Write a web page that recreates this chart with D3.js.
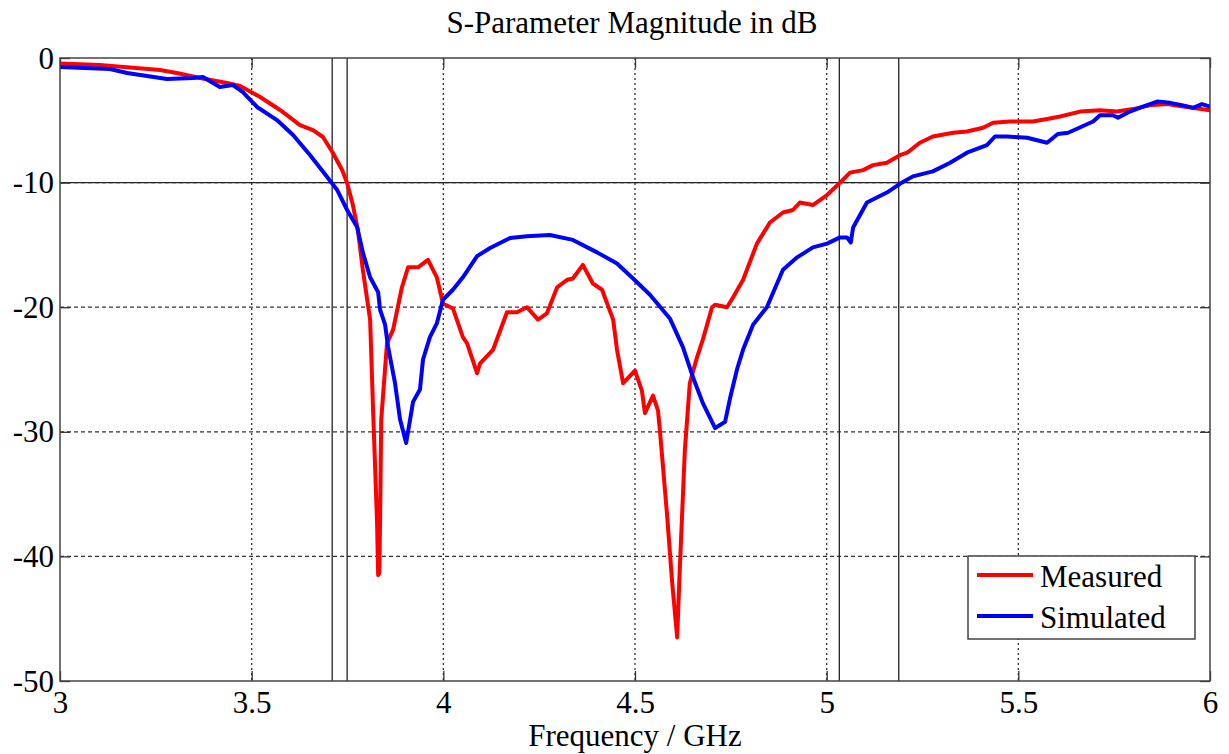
<!DOCTYPE html>
<html>
<head>
<meta charset="utf-8">
<script src="https://cdn.jsdelivr.net/npm/d3@7"></script>
<style>
  html, body { margin: 0; padding: 0; background: #fff; }
  svg { display: block; font-family: "Liberation Serif", "Times New Roman", serif; }
</style>
</head>
<body>
<svg id="chart" width="1229" height="754"></svg>
<script>
// ---------- data ----------
const titleText = "S-Parameter Magnitude in dB";
const xLabelText = "Frequency / GHz";
const xTicks = [3, 3.5, 4, 4.5, 5, 5.5, 6];
const yTicks = [0, -10, -20, -30, -40, -50];
const xDomain = [3, 6];
const yDomain = [-50, 0];
const seriesNames = ["Measured", "Simulated"];
const seriesColors = ["#ff0000", "#0000ff"];
// -10 dB bandwidth marker lines
const markerFreqs = [3.710, 3.749, 5.033, 5.188];
const markerDb = [-10];

const measuredFreq = [3.000,3.104,3.261,3.305,3.365,3.436,3.470,3.522,3.574,3.626,3.660,3.686,3.712,3.736,3.749,3.764,3.777,3.790,3.809,3.817,3.822,3.827,3.830,3.833,3.835,3.838,3.853,3.869,3.892,3.908,3.934,3.960,3.983,3.999,4.025,4.051,4.062,4.088,4.096,4.130,4.166,4.192,4.218,4.247,4.270,4.297,4.323,4.338,4.364,4.390,4.414,4.443,4.453,4.469,4.500,4.518,4.526,4.547,4.560,4.565,4.584,4.597,4.610,4.617,4.630,4.643,4.662,4.677,4.701,4.709,4.740,4.756,4.782,4.818,4.852,4.886,4.912,4.930,4.964,5.001,5.035,5.061,5.095,5.121,5.157,5.191,5.210,5.243,5.277,5.330,5.366,5.408,5.434,5.478,5.538,5.575,5.609,5.661,5.713,5.757,5.799,5.843,5.888,5.930,6.000];
const measuredDb = [-0.45,-0.56,-0.96,-1.20,-1.61,-2.01,-2.25,-3.13,-4.17,-5.38,-5.78,-6.34,-7.62,-8.99,-10.03,-11.8,-13.8,-17.0,-21.0,-28.5,-32.8,-37.2,-41.5,-41.3,-37.2,-29.0,-22.9,-21.8,-18.4,-16.8,-16.8,-16.2,-17.6,-19.7,-20.1,-22.4,-22.9,-25.3,-24.5,-23.4,-20.4,-20.4,-20.0,-21.0,-20.5,-18.4,-17.8,-17.7,-16.6,-18.1,-18.6,-21.0,-23.4,-26.1,-25.1,-26.7,-28.5,-27.1,-28.3,-29.9,-36.8,-42.1,-46.5,-40.9,-31.5,-26.1,-24.0,-22.6,-20.0,-19.8,-20.0,-19.2,-17.8,-14.9,-13.2,-12.4,-12.2,-11.6,-11.8,-11.0,-10.0,-9.2,-9.0,-8.6,-8.4,-7.8,-7.6,-6.8,-6.3,-6.0,-5.9,-5.6,-5.2,-5.1,-5.1,-4.9,-4.7,-4.3,-4.2,-4.3,-4.1,-3.8,-3.7,-3.9,-4.2];

const simulatedFreq = [3.000,3.130,3.175,3.279,3.347,3.373,3.417,3.451,3.477,3.514,3.566,3.608,3.652,3.697,3.723,3.749,3.775,3.790,3.809,3.830,3.835,3.848,3.856,3.874,3.887,3.903,3.921,3.939,3.947,3.965,3.983,3.999,4.025,4.051,4.088,4.122,4.174,4.218,4.278,4.338,4.401,4.453,4.495,4.539,4.591,4.625,4.651,4.677,4.709,4.735,4.748,4.766,4.782,4.808,4.844,4.886,4.923,4.964,5.001,5.035,5.053,5.063,5.069,5.105,5.131,5.157,5.191,5.225,5.277,5.322,5.366,5.418,5.439,5.470,5.523,5.575,5.603,5.630,5.695,5.713,5.747,5.760,5.791,5.825,5.862,5.896,5.930,5.956,5.979,6.000];
const simulatedDb = [-0.72,-0.88,-1.2,-1.69,-1.61,-1.52,-2.33,-2.17,-2.73,-3.93,-4.98,-6.18,-7.78,-9.55,-10.59,-12.2,-13.56,-15.6,-17.6,-18.8,-20.2,-21.4,-23.2,-26.1,-29.0,-30.9,-27.6,-26.6,-24.2,-22.4,-21.3,-19.4,-18.6,-17.6,-15.9,-15.25,-14.45,-14.3,-14.2,-14.6,-15.6,-16.5,-17.7,-19.0,-20.9,-23.2,-25.6,-27.7,-29.7,-29.2,-27.3,-25.0,-23.4,-21.4,-20.0,-17.0,-16.0,-15.2,-14.9,-14.4,-14.4,-14.8,-13.6,-11.6,-11.2,-10.8,-10.1,-9.5,-9.1,-8.4,-7.6,-7.0,-6.3,-6.3,-6.4,-6.8,-6.1,-6.0,-5.1,-4.6,-4.6,-4.8,-4.3,-3.9,-3.5,-3.6,-3.8,-4.0,-3.7,-3.9];

// ---------- layout ----------
const svg = d3.select("#chart");
const pL = 60, pR = 1210, pT = 58, pB = 681;
const fontSize = 31;
const plainFormat = d => String(d);   // ASCII hyphen-minus as in the reference

const x = d3.scaleLinear().domain(xDomain).range([pL, pR]);
const y = d3.scaleLinear().domain(yDomain).range([pB, pT]);

svg.append("defs").append("clipPath").attr("id", "plotClip")
  .append("rect").attr("x", pL).attr("y", pT)
  .attr("width", pR - pL).attr("height", pB - pT);

// grid (dotted)
const grid = svg.append("g");
grid.selectAll("line.vg").data(xTicks.slice(1, -1)).join("line")
  .attr("x1", d => x(d)).attr("x2", d => x(d))
  .attr("y1", pT).attr("y2", pB)
  .attr("stroke", "#333").attr("stroke-width", 1.3)
  .attr("stroke-dasharray", "2,3");
grid.selectAll("line.hg").data(yTicks.slice(1, -1)).join("line")
  .attr("y1", d => y(d)).attr("y2", d => y(d))
  .attr("x1", pL).attr("x2", pR)
  .attr("stroke", "#333").attr("stroke-width", 1.3)
  .attr("stroke-dasharray", "4,3");

// marker solid lines
svg.append("g").selectAll("line").data(markerFreqs).join("line")
  .attr("x1", d => x(d)).attr("x2", d => x(d))
  .attr("y1", pT).attr("y2", pB)
  .attr("stroke", "#222").attr("stroke-width", 1.3);
svg.append("g").selectAll("line").data(markerDb).join("line")
  .attr("y1", d => y(d)).attr("y2", d => y(d))
  .attr("x1", pL).attr("x2", pR)
  .attr("stroke", "#222").attr("stroke-width", 1.3);

// axes with inward ticks (MATLAB style)
const axBottom = d3.axisBottom(x).tickValues(xTicks).tickSizeInner(-10).tickSizeOuter(0).tickFormat(plainFormat);
const axTop = d3.axisTop(x).tickValues(xTicks).tickSizeInner(-10).tickSizeOuter(0).tickFormat("");
const axLeft = d3.axisLeft(y).tickValues(yTicks).tickSizeInner(-10).tickSizeOuter(0).tickFormat(plainFormat);
const axRight = d3.axisRight(y).tickValues(yTicks).tickSizeInner(-10).tickSizeOuter(0).tickFormat("");

function styleAxis(g) {
  g.select(".domain").remove();
  g.selectAll(".tick line").attr("stroke", "#333").attr("stroke-width", 1.3);
  g.selectAll("text").attr("font-family", "Liberation Serif, serif")
    .attr("font-size", fontSize).attr("fill", "#000");
}
svg.append("g").attr("transform", `translate(0,${pB})`).call(axBottom).call(styleAxis)
  .selectAll("text").attr("dy", null).attr("y", 32);
svg.append("g").attr("transform", `translate(0,${pT})`).call(axTop).call(styleAxis);
svg.append("g").attr("transform", `translate(${pL},0)`).call(axLeft).call(styleAxis)
  .selectAll("text").attr("dy", null).attr("y", 10).attr("x", -6);
svg.append("g").attr("transform", `translate(${pR},0)`).call(axRight).call(styleAxis);

// series lines
const measured = measuredFreq.map((f, i) => ({ f, v: measuredDb[i] }));
const simulated = simulatedFreq.map((f, i) => ({ f, v: simulatedDb[i] }));
const line = d3.line().x(d => x(d.f)).y(d => y(d.v)).curve(d3.curveLinear);
const plot = svg.append("g").attr("clip-path", "url(#plotClip)");
[measured, simulated].forEach((s, i) => {
  plot.append("path").datum(s)
    .attr("d", line).attr("fill", "none")
    .attr("stroke", seriesColors[i]).attr("stroke-width", 4)
    .attr("stroke-linejoin", "round").attr("stroke-linecap", "round");
});

// frame
svg.append("rect").attr("x", pL).attr("y", pT)
  .attr("width", pR - pL).attr("height", pB - pT)
  .attr("fill", "none").attr("stroke", "#444").attr("stroke-width", 1.5);

// title and x label
svg.append("text").attr("x", (pL + pR) / 2 - 3).attr("y", 33)
  .attr("text-anchor", "middle").attr("font-size", fontSize).attr("fill", "#000")
  .text(titleText);
svg.append("text").attr("x", (pL + pR) / 2).attr("y", 746)
  .attr("text-anchor", "middle").attr("font-size", fontSize).attr("fill", "#000")
  .text(xLabelText);

// legend
const lg = svg.append("g");
lg.append("rect").attr("x", 968).attr("y", 556).attr("width", 227).attr("height", 83)
  .attr("fill", "#fff").attr("stroke", "#444").attr("stroke-width", 1.5);
seriesNames.forEach((name, i) => {
  const cy = 575 + i * 41;
  lg.append("line").attr("x1", 977).attr("x2", 1033).attr("y1", cy).attr("y2", cy)
    .attr("stroke", seriesColors[i]).attr("stroke-width", 4);
  lg.append("text").attr("x", 1040).attr("y", cy + 12)
    .attr("font-size", fontSize).attr("fill", "#000").text(name);
});
</script>
</body>
</html>
